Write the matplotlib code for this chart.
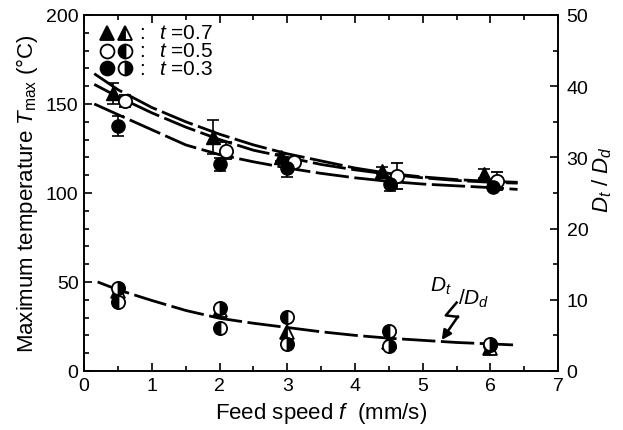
import matplotlib
matplotlib.use('Agg')
import matplotlib.pyplot as plt
from matplotlib.ticker import MultipleLocator

plt.rcParams['font.family'] = ['Liberation Sans', 'DejaVu Sans']
plt.rcParams['mathtext.fontset'] = 'custom'
plt.rcParams['mathtext.rm'] = 'Liberation Sans'
plt.rcParams['mathtext.it'] = 'Liberation Sans:italic'

# Maximum temperature (left axis), with error bars
x_t07 = [0.42, 1.9, 2.9, 4.4, 5.9]
T_t07 = [156, 131.5, 120, 112.4, 110.7]
e_t07 = [6, 9.5, 2, 2, 2.5]
x_t05 = [0.6, 2.1, 3.1, 4.62, 6.1]
T_t05 = [151.7, 123.6, 117.4, 109.6, 106.7]
e_t05 = [3.5, 4.8, 2, 7.5, 5.3]
x_t03 = [0.5, 2.0, 3.0, 4.52, 6.03]
T_t03 = [137.6, 116, 114, 105, 103.4]
e_t03 = [5.5, 3.5, 5, 4, 2]

# fitted temperature curves
cx = [0.15, 0.5, 1.0, 1.5, 2.0, 2.5, 3.0, 3.5, 4.0, 4.5, 5.0, 5.5, 6.0, 6.4]
cT_t07 = [167, 158, 148, 140, 133, 127, 122, 118, 114, 111, 109, 107.5, 106.5, 106]
cT_t05 = [161, 154, 145, 137, 130, 124, 120, 116, 113, 110.5, 108.5, 107, 106, 105.5]
cT_t03 = [150, 144, 135.5, 127, 121.5, 117.5, 114, 111, 108.5, 106.5, 105, 104, 103, 102]

# Dt/Dd ratio (right axis)
xd = [0.5, 2.0, 3.0, 4.5, 6.0]
D_t07 = [11.2, 8.6, 5.5, 4.0, 3.2]
D_t05 = [9.7, 6.0, 7.6, 5.6, 3.6]
D_t03 = [11.6, 8.9, 3.8, 3.5, 3.8]
cxd = [0.2, 0.5, 1.0, 1.5, 2.0, 2.5, 3.0, 3.5, 4.0, 4.5, 5.0, 5.5, 6.0, 6.35]
cD = [12.5, 11.4, 9.9, 8.5, 7.4, 6.7, 6.1, 5.5, 5.0, 4.6, 4.3, 4.0, 3.8, 3.65]

legend_labels = [r'$t$ =0.7', r'$t$ =0.5', r'$t$ =0.3']

fig = plt.figure(figsize=(6.23, 4.31), dpi=100)
ax = fig.add_axes([0.135, 0.137, 0.761, 0.826])
ax2 = ax.twinx()

dash = (12, 2)
for cy in (cT_t07, cT_t05, cT_t03):
    ax.plot(cx, cy, color='black', lw=2, dashes=dash, zorder=2)

ebk = dict(color='black', ecolor='black', elinewidth=1.2, capsize=4, capthick=1.2,
           ls='none', ms=9.5, zorder=3)
ax.errorbar(x_t07, T_t07, yerr=e_t07, marker='^', mfc='black', mec='black', **ebk)
ax.errorbar(x_t05, T_t05, yerr=e_t05, marker='o', mfc='white', mec='black',
            mew=1.3, **ebk)
ax.errorbar(x_t03, T_t03, yerr=e_t03, marker='o', mfc='black', mec='black', **ebk)

ax2.plot(cxd, cD, color='black', lw=2, dashes=dash, zorder=2)
mk = dict(ls='none', color='black', mfc='black', mfcalt='white', mec='black',
          mew=1.3, ms=9.5, zorder=3)
ax2.plot(xd, D_t07, marker='^', fillstyle='left', **mk)
ax2.plot(xd, D_t05, marker='o', fillstyle='left', **mk)
ax2.plot(xd, D_t03, marker='o', fillstyle='right', **mk)

# hand-made legend block (top left)
leg_style = [
    (dict(marker='^', mfc='black'), dict(marker='^', fillstyle='left', mfc='black', mfcalt='white')),
    (dict(marker='o', mfc='white'), dict(marker='o', fillstyle='left', mfc='black', mfcalt='white')),
    (dict(marker='o', mfc='black'), dict(marker='o', fillstyle='right', mfc='black', mfcalt='white')),
]
for row, (lab, (s1, s2)) in enumerate(zip(legend_labels, leg_style)):
    yy = 0.95 - row * 0.05
    ax.plot([0.048], [yy], transform=ax.transAxes, ls='none', mec='black',
            mew=1.3, ms=10, clip_on=False, **s1)
    ax.plot([0.087], [yy], transform=ax.transAxes, ls='none', mec='black',
            mew=1.3, ms=10, clip_on=False, **s2)
    ax.text(0.122, yy, ':', transform=ax.transAxes, va='center', ha='center',
            fontsize=15)
    ax.text(0.158, yy, lab, transform=ax.transAxes, va='center', ha='left',
            fontsize=15)

# annotation with lightning arrow
ax2.text(5.1, 11.3, r'$D_t$', fontsize=15)
ax2.text(5.52, 9.5, r'$/D_d$', fontsize=15)
ax2.plot([5.5, 5.34, 5.52], [9.6, 7.8, 7.6], color='black', lw=1.8)
ax2.annotate('', xy=(5.28, 4.35), xytext=(5.52, 7.65),
             arrowprops=dict(arrowstyle='-|>', color='black', lw=1.8,
                             mutation_scale=14, shrinkA=0, shrinkB=0))

ax.set_xlim(0, 7)
ax.set_ylim(0, 200)
ax2.set_ylim(0, 50)
ax.xaxis.set_major_locator(MultipleLocator(1))
ax.xaxis.set_minor_locator(MultipleLocator(0.5))
ax.yaxis.set_major_locator(MultipleLocator(50))
ax.yaxis.set_minor_locator(MultipleLocator(10))
ax2.yaxis.set_major_locator(MultipleLocator(10))
ax2.yaxis.set_minor_locator(MultipleLocator(5))
ax.tick_params(which='both', direction='in', top=True, right=False, labelsize=14,
               width=1.2)
ax.tick_params(which='major', length=6, pad=4)
ax.tick_params(which='minor', length=3.5)
ax2.tick_params(which='both', direction='in', labelsize=14, width=1.2)
ax2.tick_params(which='major', length=6, pad=6)
ax2.tick_params(which='minor', length=3.5)
for a in (ax, ax2):
    for s in a.spines.values():
        s.set_linewidth(1.2)

ax.set_xlabel(r'Feed speed $f$  (mm/s)', fontsize=16, labelpad=5)
ax.set_ylabel(r'Maximum temperature $T_{\rm max}$ (°C)', fontsize=16, labelpad=4)
ax2.set_ylabel(r'$D_t$ / $D_d$', fontsize=16)
ax2.yaxis.set_label_coords(1.067, 0.54)

fig.savefig('out.png', dpi=100)
